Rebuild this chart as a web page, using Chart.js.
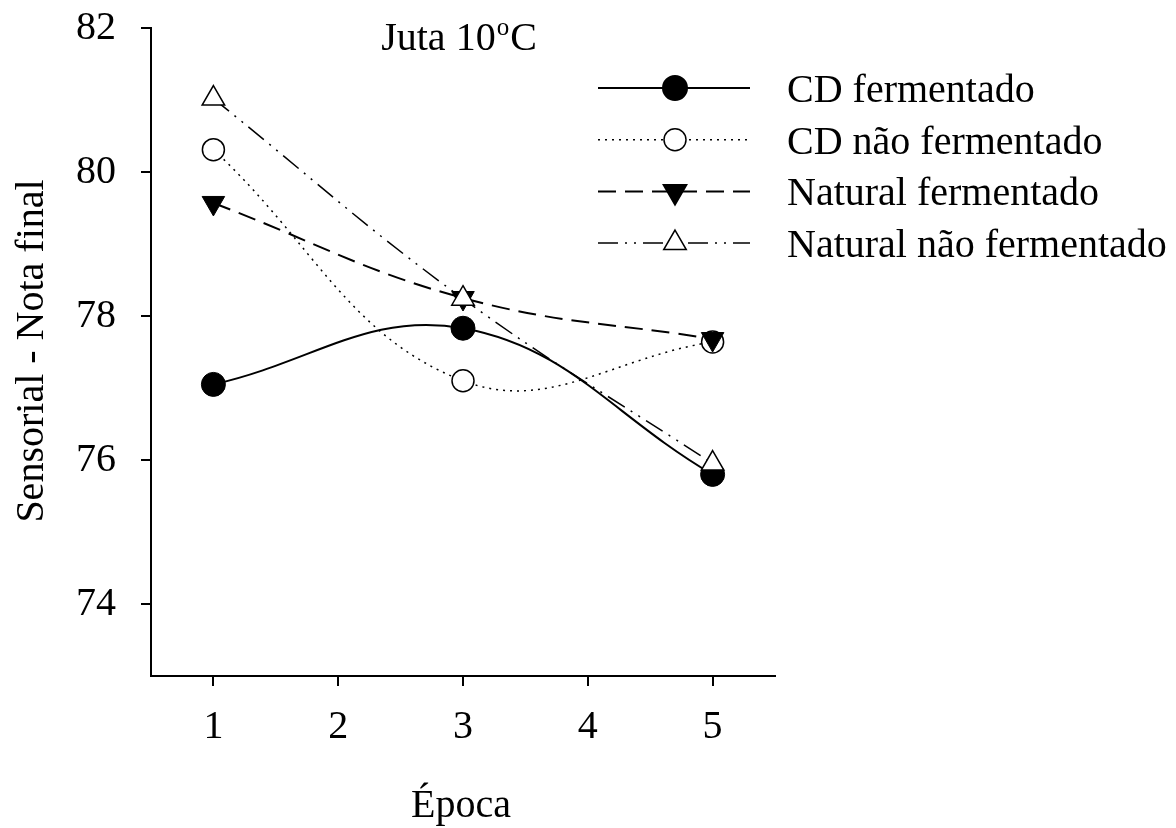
<!DOCTYPE html>
<html>
<head>
  <title>Juta 10 C - Sensorial</title>
  <script src="https://cdn.jsdelivr.net/npm/chart.js"></script>
  <style>
    body { margin: 0; background: #fff; }
  </style>
</head>
<body>
  <div style="width: 1176px; height: 828px;">
    <canvas id="grafico" width="1176" height="828"></canvas>
  </div>

  <script>
    // Valores
    const epocas = [1, 3, 5];
    const cdFermentado = [77.05, 77.83, 75.8];
    const cdNaoFermentado = [80.31, 77.1, 77.64];
    const naturalFermentado = [79.57, 78.25, 77.68];
    const naturalNaoFermentado = [81.02, 78.24, 75.95];
    const nomes = ['CD fermentado', 'CD não fermentado', 'Natural fermentado', 'Natural não fermentado'];
    const xTicks = [1, 2, 3, 4, 5];
    const yTicks = [74, 76, 78, 80, 82];

    const fonte = '"Liberation Serif", "Times New Roman", serif';

    function pontos(valores) {
      return epocas.map((e, i) => ({ x: e, y: valores[i] }));
    }

    // legenda, titulo e titulos dos eixos
    const textos = {
      id: 'textos',
      afterDraw(chart) {
        const ctx = chart.ctx;
        ctx.save();
        ctx.fillStyle = '#000';

        // titulo "Juta 10oC" com o sobrescrito
        const grande = '40px ' + fonte;
        const pequeno = '25px ' + fonte;
        ctx.font = grande;
        const w1 = ctx.measureText('Juta 10').width;
        const w3 = ctx.measureText('C').width;
        ctx.font = pequeno;
        const w2 = ctx.measureText('o').width + 2;
        let x = 459 - (w1 + w2 + w3) / 2;
        ctx.textBaseline = 'alphabetic';
        ctx.textAlign = 'left';
        ctx.font = grande;
        ctx.fillText('Juta 10', x, 50);
        ctx.font = pequeno;
        ctx.fillText('o', x + w1 + 1, 35);
        ctx.font = grande;
        ctx.fillText('C', x + w1 + w2, 50);

        // eixo x
        ctx.textAlign = 'center';
        ctx.fillText('Época', 461, 817);

        // eixo y
        ctx.save();
        ctx.translate(43, 351);
        ctx.rotate(-Math.PI / 2);
        ctx.fillText('Sensorial - Nota final', 0, 0);
        ctx.restore();

        // legenda
        chart.data.datasets.forEach((ds, i) => {
          const y = 88 + i * 51.7;
          ctx.save();
          ctx.strokeStyle = '#000';
          ctx.lineWidth = ds.borderWidth;
          ctx.setLineDash(ds.borderDash || []);
          ctx.beginPath();
          ctx.moveTo(598, y);
          ctx.lineTo(750, y);
          ctx.stroke();
          ctx.setLineDash([]);
          ctx.fillStyle = ds.pointBackgroundColor;
          ctx.strokeStyle = '#000';
          Chart.helpers.drawPoint(ctx, {
            pointStyle: ds.pointStyle,
            rotation: ds.pointRotation || 0,
            radius: ds.pointRadius,
            borderWidth: ds.pointBorderWidth
          }, 675, y);
          ctx.restore();
          ctx.fillStyle = '#000';
          ctx.textAlign = 'left';
          ctx.font = grande;
          ctx.fillText(ds.label, 787, y + 14);
        });
        ctx.restore();
      }
    };

    const eixo = {
      border: { display: true, color: '#000', width: 2 },
      grid: { drawOnChartArea: false, drawTicks: true, tickLength: 10, color: '#000', lineWidth: 2 },
      ticks: { color: '#000', font: { family: fonte, size: 40 } }
    };

    function semFolga(scale) {
      scale.paddingTop = 0;
      scale.paddingBottom = 0;
      scale.paddingLeft = 0;
      scale.paddingRight = 0;
    }

    new Chart(document.getElementById('grafico'), {
      type: 'line',
      data: {
        datasets: [
          {
            label: nomes[0],
            data: pontos(cdFermentado),
            order: 4,
            borderColor: '#000',
            borderWidth: 2,
            pointStyle: 'circle',
            pointRadius: 12,
            pointBackgroundColor: '#000',
            pointBorderColor: '#000',
            pointBorderWidth: 1
          },
          {
            label: nomes[1],
            data: pontos(cdNaoFermentado),
            order: 3,
            borderColor: '#000',
            borderWidth: 1.5,
            borderDash: [2, 5],
            pointStyle: 'circle',
            pointRadius: 11,
            pointBackgroundColor: '#fff',
            pointBorderColor: '#000',
            pointBorderWidth: 1.5
          },
          {
            label: nomes[2],
            data: pontos(naturalFermentado),
            order: 2,
            borderColor: '#000',
            borderWidth: 2,
            borderDash: [18, 9],
            pointStyle: 'triangle',
            pointRotation: 180,
            pointRadius: 13,
            pointBackgroundColor: '#000',
            pointBorderColor: '#000',
            pointBorderWidth: 1
          },
          {
            label: nomes[3],
            data: pontos(naturalNaoFermentado),
            order: 1,
            borderColor: '#000',
            borderWidth: 1.5,
            borderDash: [20, 7, 2, 7, 2, 7],
            pointStyle: 'triangle',
            pointRadius: 13,
            pointBackgroundColor: '#fff',
            pointBorderColor: '#000',
            pointBorderWidth: 1.5
          }
        ]
      },
      options: {
        responsive: false,
        animation: false,
        layout: { padding: { left: 0, right: 401, top: 28, bottom: 0 } },
        elements: { line: { tension: 0.4 } },
        scales: {
          x: {
            ...eixo,
            type: 'linear',
            min: 0.5,
            max: 5.5,
            ticks: { ...eixo.ticks, padding: 17 },
            afterBuildTicks: scale => { scale.ticks = xTicks.map(v => ({ value: v })); },
            afterFit: scale => { scale.height = 152; semFolga(scale); }
          },
          y: {
            ...eixo,
            min: 73,
            max: 82,
            ticks: { ...eixo.ticks, padding: 25 },
            afterBuildTicks: scale => { scale.ticks = yTicks.map(v => ({ value: v })); },
            afterFit: scale => { scale.width = 151; semFolga(scale); }
          }
        },
        plugins: {
          legend: { display: false },
          tooltip: { enabled: false }
        }
      },
      plugins: [textos]
    });
  </script>
</body>
</html>
